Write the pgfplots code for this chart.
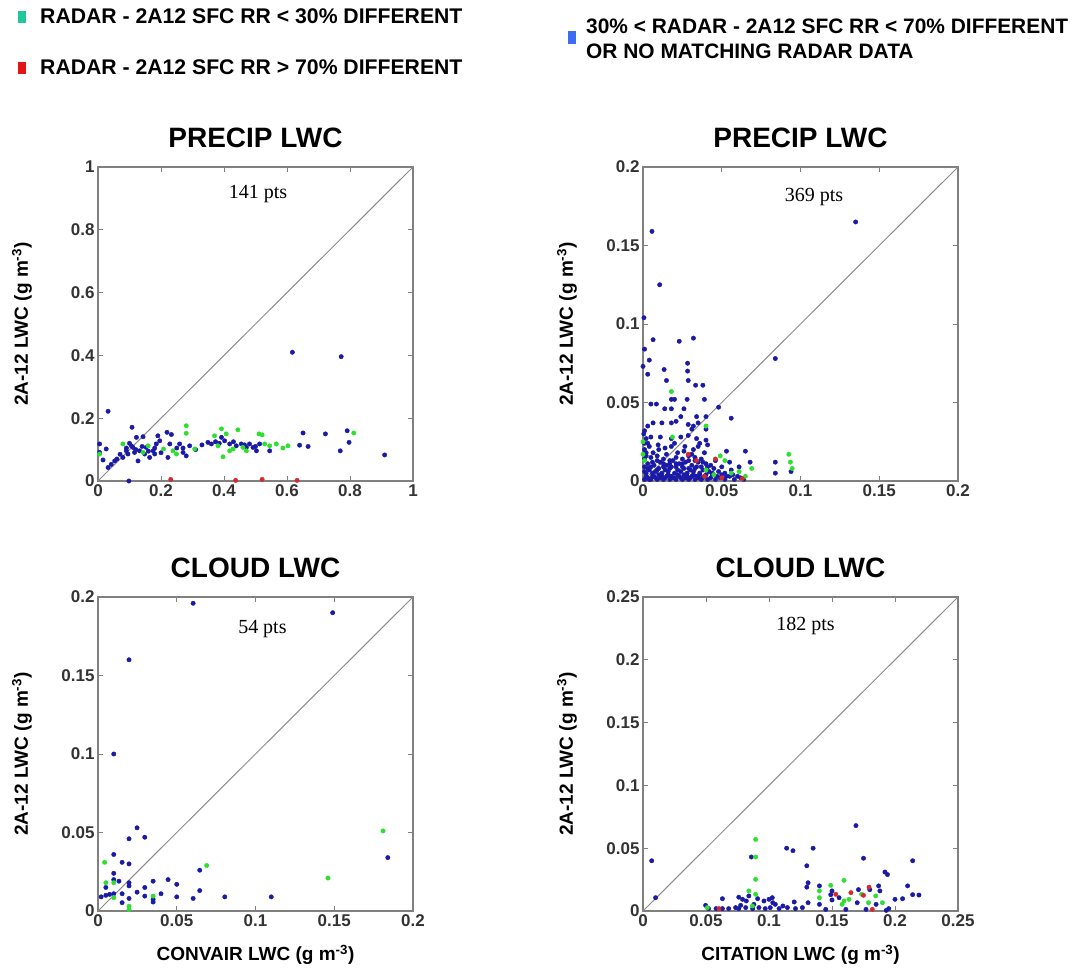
\documentclass[border=0pt]{standalone}
\usepackage{fontspec}
\setmainfont{Liberation Sans}
\newfontfamily\ptsfont{Liberation Serif}
\usepackage{pgfplots}
\pgfplotsset{compat=1.18}

\definecolor{axgray}{HTML}{808080}
\definecolor{diag}{HTML}{8C8C8C}
\definecolor{ptblue}{HTML}{1A1AA6}
\definecolor{ptgreen}{HTML}{2EE02E}
\definecolor{ptred}{HTML}{D42A2A}
\definecolor{lgreen}{HTML}{20C79A}
\definecolor{lred}{HTML}{E51515}
\definecolor{lblue}{HTML}{3D6CF2}
\definecolor{ticktxt}{HTML}{333333}

\pgfplotsset{
  panel/.style={
    scale only axis, width=315pt, height=314pt, anchor=south west,
    axis line style={axgray, line width=1.2pt},
    tick style={axgray, line width=0.9pt},
    tick align=inside, major tick length=5pt,
    tick label style={font=\fontsize{17}{19}\selectfont\bfseries, text=ticktxt},
    /pgf/number format/assume math mode=true,
    /pgf/number format/fixed,
    every axis title/.style={at={(axis description cs:0.5,1)}, anchor=base, yshift=19pt,
      font=\fontsize{28}{32}\selectfont\bfseries},
    every axis y label/.style={at={(axis description cs:-0.2413,0.5)}, rotate=90, anchor=center,
      font=\fontsize{19}{22}\selectfont\bfseries},
    every axis x label/.style={at={(axis description cs:0.5,-0.14)}, anchor=center,
      font=\fontsize{19}{22}\selectfont\bfseries},
    ylabel={2A-12 LWC (g m\textsuperscript{-3})},
    clip=false,
  },
  bm/.style={only marks, mark=*, mark size=2.2pt, draw=ptblue, fill=ptblue},
  gm/.style={only marks, mark=*, mark size=2.2pt, draw=ptgreen, fill=ptgreen},
  rm/.style={only marks, mark=*, mark size=2.2pt, draw=ptred, fill=ptred},
  dl/.style={diag, line width=1pt, mark=none},
}

\begin{document}
\begin{tikzpicture}
\path[use as bounding box] (0,0) rectangle (1075pt,969pt);

% ---------- legend ----------
\fill[lgreen] (18pt,958pt) rectangle (26pt,946pt);
\node[anchor=base west, inner sep=0pt, font=\fontsize{21.2}{25}\selectfont\bfseries] at (40pt,945pt) {RADAR - 2A12 SFC RR < 30\% DIFFERENT};
\fill[lred] (18pt,907pt) rectangle (26pt,895pt);
\node[anchor=base west, inner sep=0pt, font=\fontsize{21.2}{25}\selectfont\bfseries] at (40pt,894pt) {RADAR - 2A12 SFC RR > 70\% DIFFERENT};
\fill[lblue] (568pt,938pt) rectangle (576pt,925pt);
\node[anchor=base west, inner sep=0pt, font=\fontsize{20.9}{25}\selectfont\bfseries] at (586pt,935pt) {30\% < RADAR - 2A12 SFC RR < 70\% DIFFERENT};
\node[anchor=base west, inner sep=0pt, font=\fontsize{20.9}{25}\selectfont\bfseries] at (586pt,910pt) {OR NO MATCHING RADAR DATA};

% ---------- panel 1 ----------
\begin{axis}[panel, at={(98pt,488pt)}, xmin=0, xmax=1, ymin=0, ymax=1,
  xtick={0,0.2,0.4,0.6,0.8,1}, ytick={0,0.2,0.4,0.6,0.8,1},
  title={PRECIP LWC}]
\addplot[dl] coordinates {(0,0) (1,1)};
\addplot[bm] coordinates {
(0.617,0.410) (0.772,0.396) (0.032,0.222) (0.108,0.171) (0.651,0.153) (0.722,0.150)
(0.791,0.160) (0.797,0.123) (0.769,0.096) (0.910,0.083) (0.640,0.114) (0.667,0.110)
(0.545,0.096) (0.219,0.155) (0.233,0.148) (0.190,0.144) (0.005,0.118) (0.005,0.091)
(0.026,0.102) (0.016,0.067) (0.032,0.043) (0.042,0.053) (0.053,0.064) (0.079,0.075)
(0.098,0.000) (0.090,0.096) (0.111,0.107) (0.122,0.139) (0.143,0.141) (0.132,0.096)
(0.127,0.064) (0.148,0.086) (0.164,0.075) (0.175,0.096) (0.185,0.118) (0.196,0.128)
(0.180,0.086) (0.222,0.075) (0.228,0.118) (0.259,0.118) (0.270,0.105) (0.280,0.080)
(0.291,0.112) (0.270,0.091) (0.349,0.123) (0.360,0.118) (0.373,0.125) (0.392,0.139)
(0.402,0.128) (0.418,0.118) (0.439,0.112) (0.455,0.118) (0.471,0.107) (0.481,0.118)
(0.492,0.107) (0.503,0.096) (0.513,0.118) (0.106,0.112) (0.116,0.091) (0.153,0.107)
(0.095,0.086) (0.120,0.100) (0.140,0.110) (0.160,0.095) (0.180,0.105) (0.200,0.090)
(0.250,0.105) (0.310,0.100) (0.330,0.115) (0.385,0.120) (0.430,0.125) (0.465,0.115)
(0.500,0.110) (0.070,0.085) (0.090,0.105) (0.060,0.070) (0.100,0.120)
};
\addplot[gm] coordinates {
(0.280,0.176) (0.280,0.152) (0.392,0.166) (0.444,0.163) (0.407,0.150) (0.370,0.144)
(0.511,0.150) (0.521,0.147) (0.566,0.118) (0.603,0.112) (0.587,0.105) (0.812,0.153)
(0.397,0.077) (0.429,0.102) (0.460,0.107) (0.529,0.118) (0.079,0.118) (0.005,0.086)
(0.143,0.091) (0.159,0.112) (0.238,0.096) (0.249,0.086) (0.307,0.102) (0.381,0.112)
(0.418,0.096) (0.471,0.096) (0.545,0.112) (0.208,0.102)
};
\addplot[rm] coordinates {(0.231,0.005) (0.437,0.002) (0.521,0.005) (0.632,0.002)};
\node[font=\ptsfont\fontsize{20}{24}\selectfont] at (rel axis cs:0.508,0.914) {141 pts};
\end{axis}

% ---------- panel 2 ----------
\begin{axis}[panel, at={(643pt,488pt)}, xmin=0, xmax=0.2, ymin=0, ymax=0.2,
  xtick={0,0.05,0.1,0.15,0.2}, ytick={0,0.05,0.1,0.15,0.2},
  title={PRECIP LWC}]
\addplot[dl] coordinates {(0,0) (0.2,0.2)};
\addplot[bm] coordinates {
(0.135,0.165) (0.0057,0.159) (0.0106,0.125) (0.0006,0.104) (0.0064,0.090) (0.001,0.084)
(0.004,0.077) (0.000,0.073) (0.003,0.068) (0.023,0.089) (0.032,0.091) (0.084,0.078)
(0.0134,0.071) (0.0283,0.075) (0.0283,0.070) (0.0149,0.064) (0.0287,0.064) (0.0334,0.061)
(0.038,0.061) (0.039,0.052) (0.028,0.052) (0.018,0.052) (0.020,0.052) (0.005,0.049)
(0.0085,0.049) (0.0138,0.046) (0.018,0.046) (0.026,0.046) (0.048,0.047) (0.056,0.040)
(0.024,0.041) (0.034,0.041) (0.040,0.041) (0.0064,0.037) (0.012,0.037) (0.018,0.037)
(0.021,0.038) (0.0287,0.036) (0.032,0.035) (0.035,0.037) (0.031,0.033) (0.040,0.033)
(0.001,0.032) (0.005,0.028) (0.011,0.028) (0.018,0.027) (0.024,0.028) (0.0287,0.029)
(0.034,0.027) (0.040,0.026) (0.003,0.024) (0.0096,0.023) (0.018,0.022) (0.0266,0.022)
(0.035,0.022) (0.041,0.023) (0.002,0.018) (0.0064,0.018) (0.0149,0.017) (0.022,0.018)
(0.031,0.017) (0.039,0.018) (0.053,0.019) (0.065,0.019) (0.084,0.012) (0.084,0.005)
(0.094,0.006) (0.068,0.012) (0.061,0.009) (0.055,0.012) (0.050,0.009) (0.046,0.013)
(0.001,0.001) (0.003,0.002) (0.005,0.001) (0.007,0.003) (0.009,0.001) (0.011,0.002)
(0.013,0.001) (0.015,0.003) (0.017,0.001) (0.019,0.002) (0.021,0.001) (0.023,0.003)
(0.025,0.001) (0.027,0.002) (0.029,0.001) (0.031,0.003) (0.033,0.001) (0.035,0.002)
(0.037,0.001) (0.039,0.003) (0.041,0.001) (0.043,0.002) (0.046,0.001) (0.049,0.002)
(0.052,0.001) (0.055,0.003) (0.058,0.001) (0.062,0.002)
(0.002,0.005) (0.004,0.007) (0.006,0.005) (0.008,0.006) (0.010,0.008) (0.012,0.005)
(0.014,0.007) (0.016,0.006) (0.018,0.009) (0.020,0.005) (0.022,0.007) (0.024,0.006)
(0.026,0.008) (0.028,0.005) (0.030,0.007) (0.032,0.006) (0.034,0.009) (0.036,0.005)
(0.038,0.007) (0.042,0.006) (0.045,0.008) (0.001,0.009) (0.003,0.011) (0.007,0.010)
(0.011,0.012) (0.015,0.010) (0.019,0.013) (0.023,0.011) (0.027,0.012) (0.031,0.010)
(0.035,0.012) (0.040,0.011) (0.001,0.014) (0.005,0.015) (0.009,0.016) (0.013,0.014)
(0.017,0.013) (0.021,0.015) (0.025,0.014) (0.029,0.016) (0.033,0.015) (0.037,0.014)
(0.001,0.020) (0.004,0.022) (0.010,0.020) (0.014,0.021) (0.020,0.024) (0.026,0.019)
(0.032,0.020) (0.036,0.024)
(0.002,0.003) (0.004,0.001) (0.006,0.003) (0.008,0.002) (0.010,0.004) (0.012,0.003)
(0.014,0.002) (0.016,0.004) (0.018,0.003) (0.020,0.002) (0.022,0.004) (0.024,0.002)
(0.026,0.004) (0.028,0.003) (0.030,0.002) (0.032,0.004) (0.034,0.003) (0.036,0.004)
(0.038,0.002) (0.040,0.004) (0.044,0.004) (0.047,0.003) (0.050,0.004) (0.053,0.003)
(0.057,0.004) (0.060,0.003) (0.064,0.001)
(0.001,0.006) (0.003,0.008) (0.005,0.009) (0.009,0.007) (0.013,0.009) (0.017,0.008)
(0.021,0.009) (0.025,0.009) (0.029,0.008) (0.033,0.008) (0.037,0.009) (0.041,0.009)
(0.044,0.005) (0.048,0.006) (0.052,0.005) (0.056,0.007) (0.002,0.016) (0.001,0.024)
(0.002,0.027) (0.0005,0.030) (0.003,0.035) (0.006,0.012) (0.009,0.013) (0.013,0.011)
(0.017,0.011) (0.021,0.011) (0.025,0.011) (0.029,0.013) (0.033,0.013) (0.038,0.012)
(0.043,0.010)
};
\addplot[gm] coordinates {
(0.018,0.057) (0.0187,0.028) (0.000,0.025) (0.000,0.017) (0.001,0.013) (0.0926,0.017)
(0.0936,0.012) (0.0947,0.008) (0.040,0.035) (0.049,0.016) (0.052,0.013) (0.061,0.006)
(0.069,0.008) (0.040,0.007) (0.045,0.004) (0.065,0.003) (0.056,0.005)
};
\addplot[rm] coordinates {
(0.0287,0.017) (0.046,0.014) (0.034,0.013) (0.063,0.0015) (0.050,0.002) (0.039,0.003)
};
\node[font=\ptsfont\fontsize{20}{24}\selectfont] at (rel axis cs:0.543,0.905) {369 pts};
\end{axis}

% ---------- panel 3 ----------
\begin{axis}[panel, at={(98pt,58pt)}, xmin=0, xmax=0.2, ymin=0, ymax=0.2,
  xtick={0,0.05,0.1,0.15,0.2}, ytick={0,0.05,0.1,0.15,0.2},
  title={CLOUD LWC}, xlabel={CONVAIR LWC (g m\textsuperscript{-3})}]
\addplot[dl] coordinates {(0,0) (0.2,0.2)};
\addplot[bm] coordinates {
(0.0604,0.196) (0.149,0.190) (0.0197,0.160) (0.010,0.100) (0.0248,0.053) (0.0197,0.046)
(0.0297,0.047) (0.010,0.036) (0.0153,0.031) (0.0197,0.030) (0.010,0.024) (0.0646,0.026)
(0.184,0.034) (0.010,0.020) (0.0133,0.019) (0.0197,0.018) (0.0197,0.016) (0.035,0.019)
(0.0445,0.020) (0.050,0.017) (0.005,0.015) (0.0297,0.015) (0.0646,0.013) (0.0248,0.012)
(0.0153,0.011) (0.010,0.011) (0.040,0.011) (0.0074,0.0106) (0.005,0.010) (0.002,0.009)
(0.0297,0.0095) (0.050,0.009) (0.0604,0.008) (0.0805,0.009) (0.110,0.009) (0.0197,0.008)
(0.035,0.0074) (0.0153,0.0053) (0.035,0.0057)
};
\addplot[gm] coordinates {
(0.181,0.051) (0.0042,0.031) (0.069,0.029) (0.146,0.021) (0.005,0.018) (0.010,0.018)
(0.010,0.0085) (0.0197,0.003) (0.0197,0.001) (0.035,0.0095)
};
\node[font=\ptsfont\fontsize{20}{24}\selectfont] at (rel axis cs:0.522,0.897) {54 pts};
\end{axis}

% ---------- panel 4 ----------
\begin{axis}[panel, at={(643pt,58pt)}, xmin=0, xmax=0.25, ymin=0, ymax=0.25,
  xtick={0,0.05,0.1,0.15,0.2,0.25}, ytick={0,0.05,0.1,0.15,0.2,0.25},
  title={CLOUD LWC}, xlabel={CITATION LWC (g m\textsuperscript{-3})}]
\addplot[dl] coordinates {(0,0) (0.25,0.25)};
\addplot[bm] coordinates {
(0.0069,0.040) (0.010,0.0106) (0.169,0.068) (0.114,0.050) (0.119,0.048) (0.135,0.050)
(0.086,0.043) (0.175,0.042) (0.214,0.040) (0.130,0.036) (0.192,0.031) (0.194,0.029)
(0.131,0.0225) (0.140,0.020) (0.130,0.019) (0.210,0.020) (0.171,0.017) (0.180,0.017)
(0.187,0.020) (0.188,0.016) (0.149,0.013) (0.150,0.016) (0.214,0.013) (0.219,0.0127)
(0.206,0.0098) (0.200,0.0093) (0.063,0.0098) (0.076,0.011) (0.079,0.0093) (0.082,0.008)
(0.084,0.012) (0.091,0.0098) (0.096,0.008) (0.100,0.0093) (0.103,0.0066) (0.105,0.0053)
(0.111,0.004) (0.120,0.0072) (0.131,0.0066) (0.140,0.0053) (0.150,0.0088) (0.170,0.0066)
(0.185,0.0053) (0.195,0.0019) (0.0497,0.0045) (0.052,0.0019) (0.058,0.0019) (0.063,0.0019)
(0.068,0.0019) (0.0735,0.0027) (0.076,0.0019) (0.0815,0.0027) (0.087,0.0019) (0.092,0.0027)
(0.097,0.0019) (0.101,0.0027) (0.108,0.0019) (0.1146,0.0027) (0.121,0.0019) (0.1265,0.0027)
(0.145,0.0013) (0.161,0.0013) (0.177,0.0013) (0.193,0.0005) (0.0775,0.0045) (0.088,0.0053)
(0.1026,0.0106) (0.1556,0.0106)
};
\addplot[gm] coordinates {
(0.0894,0.057) (0.0894,0.043) (0.0894,0.0252) (0.084,0.016) (0.0894,0.0133) (0.1595,0.0244)
(0.149,0.0204) (0.140,0.016) (0.140,0.0106) (0.1595,0.008) (0.158,0.0053) (0.1735,0.0133)
(0.179,0.0066) (0.1847,0.012) (0.190,0.0066) (0.051,0.0027) (0.0868,0.004) (0.1635,0.0093)
};
\addplot[rm] coordinates {
(0.0603,0.0019) (0.153,0.0133) (0.165,0.0146) (0.1794,0.019) (0.175,0.0125) (0.182,0.0013)
};
\node[font=\ptsfont\fontsize{20}{24}\selectfont] at (rel axis cs:0.516,0.907) {182 pts};
\end{axis}
\end{tikzpicture}
\end{document}
